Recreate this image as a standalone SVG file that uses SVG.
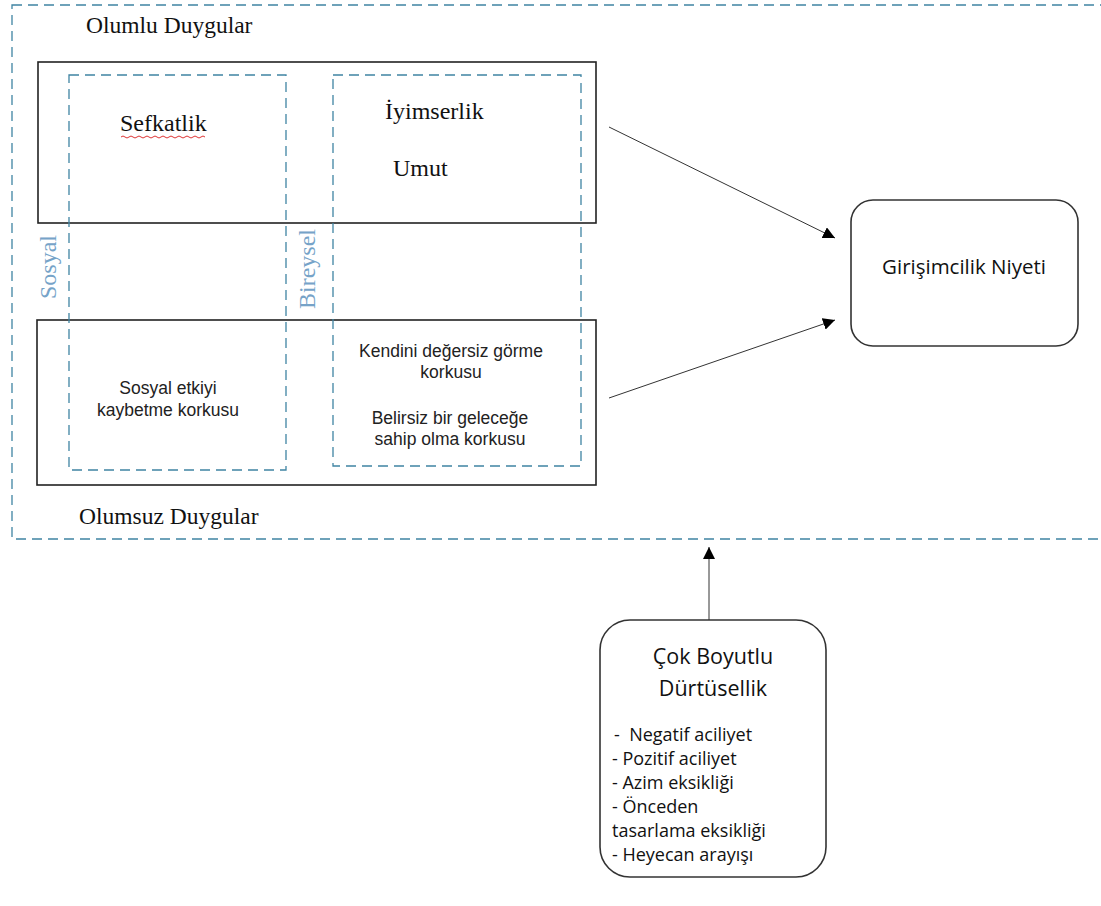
<svg xmlns="http://www.w3.org/2000/svg" width="1101" height="906" viewBox="0 0 1101 906">
<style>
.dash{fill:none;stroke:#3f84a3;stroke-width:1.3;stroke-dasharray:10,6}
.box{fill:none;stroke:#222;stroke-width:1.6}
.rbox{fill:#fff;stroke:#333;stroke-width:1.6}
.serif{font-family:"Liberation Serif","Times New Roman",serif;fill:#111}
.sans{font-family:"Liberation Sans",Arial,sans-serif;fill:#222;font-size:17.5px}
.cal{font-family:"Open Sans","Noto Sans",sans-serif;fill:#111}
.blue{font-family:"Liberation Serif",serif;fill:#76a3c8;font-size:24px}
.conn{stroke:#333;stroke-width:1;fill:none;marker-end:url(#ah)}
</style>
<defs>
<marker id="ah" viewBox="0 0 10 10" refX="10" refY="5" markerWidth="12" markerHeight="12" markerUnits="userSpaceOnUse" orient="auto">
<path d="M0,0 L10,5 L0,10 z" fill="#000"/>
</marker>
</defs>
<rect width="1101" height="906" fill="#fff"/>
<g id="outer">
<rect class="dash" x="12" y="5" width="1100" height="534"/>
<text class="serif" x="86" y="33" font-size="23.5">Olumlu Duygular</text>
<text class="serif" x="79" y="524" font-size="23.5">Olumsuz Duygular</text>
</g>
<g id="olumlu">
<rect class="box" x="38" y="62" width="558" height="161"/>
</g>
<g id="olumsuz">
<rect class="box" x="37" y="320" width="559" height="165"/>
</g>
<g id="sosyal">
<rect class="dash" x="69" y="75" width="217" height="395"/>
<text class="blue" transform="translate(56,267) rotate(-90)" text-anchor="middle">Sosyal</text>
<text class="serif" x="120" y="131" font-size="24">Sefkatlik</text>
<path d="M121,137 q2,-2 4,0 t4,0 t4,0 t4,0 t4,0 t4,0 t4,0 t4,0 t4,0 t4,0 t4,0 t4,0 t4,0 t4,0 t4,0 t4,0 t4,0 t4,0 t4,0 t4,0 t4,0" fill="none" stroke="#d33" stroke-width="1"/>
<text class="sans" x="168" y="394" text-anchor="middle">Sosyal etkiyi</text>
<text class="sans" x="168" y="416" text-anchor="middle">kaybetme korkusu</text>
</g>
<g id="bireysel">
<rect class="dash" x="333" y="75" width="248" height="391"/>
<text class="blue" transform="translate(315,269) rotate(-90)" text-anchor="middle">Bireysel</text>
<text class="serif" x="385" y="119" font-size="24">İyimserlik</text>
<text class="serif" x="393" y="176" font-size="24">Umut</text>
<text class="sans" x="451" y="357" text-anchor="middle">Kendini değersiz görme</text>
<text class="sans" x="451" y="378" text-anchor="middle">korkusu</text>
<text class="sans" x="450" y="424" text-anchor="middle">Belirsiz bir geleceğe</text>
<text class="sans" x="450" y="445" text-anchor="middle">sahip olma korkusu</text>
</g>
<g id="niyet">
<rect class="rbox" x="851" y="200" width="227" height="146" rx="22"/>
<text class="cal" x="964" y="274" font-size="20.5" text-anchor="middle">Girişimcilik Niyeti</text>
</g>
<g id="durtusellik">
<rect class="rbox" x="600" y="620" width="226" height="257" rx="30"/>
<text class="cal" x="713" y="664" font-size="21.5" text-anchor="middle">Çok Boyutlu</text>
<text class="cal" x="713" y="696" font-size="21.5" text-anchor="middle">Dürtüsellik</text>
<text class="cal" x="614" y="741" font-size="18" xml:space="preserve">-  Negatif aciliyet</text>
<text class="cal" x="612" y="765" font-size="18">- Pozitif aciliyet</text>
<text class="cal" x="612" y="789" font-size="18">- Azim eksikliği</text>
<text class="cal" x="612" y="813" font-size="18">- Önceden</text>
<text class="cal" x="612" y="837" font-size="18">tasarlama eksikliği</text>
<text class="cal" x="612" y="861" font-size="18">- Heyecan arayışı</text>
</g>
<g id="connectors">
<line class="conn" x1="609" y1="127" x2="835" y2="238"/>
<line class="conn" x1="609" y1="398" x2="835" y2="320"/>
<line class="conn" x1="709" y1="620" x2="709" y2="547"/>
</g>
</svg>
